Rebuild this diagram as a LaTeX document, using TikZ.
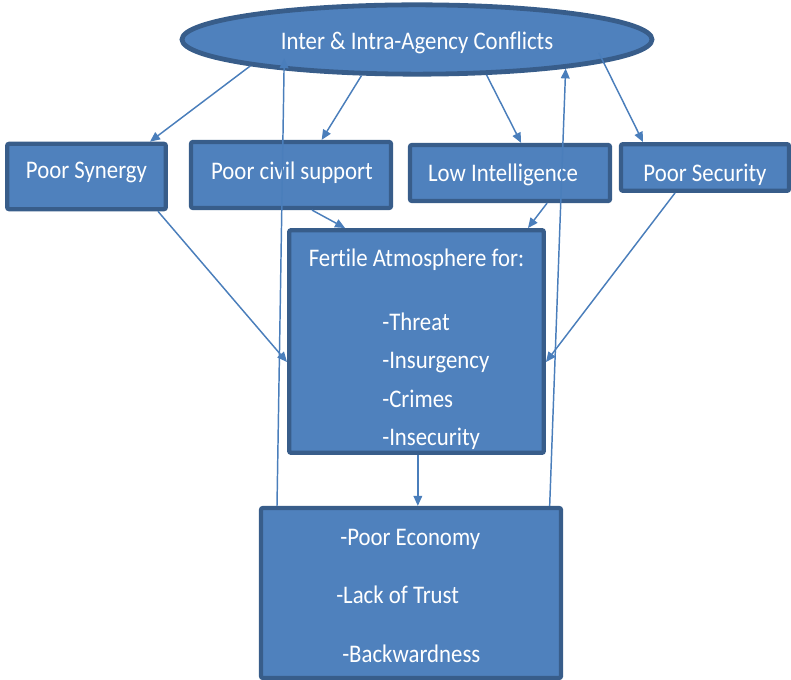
\documentclass[tikz,border=0pt]{standalone}
\usepackage{fontspec}
\setmainfont{Carlito}[FakeStretch=0.9,Ligatures=NoCommon]
\usetikzlibrary{arrows.meta,shapes.geometric}
\definecolor{BoxFill}{HTML}{4F81BD}
\definecolor{BoxEdge}{HTML}{385D8A}
\definecolor{LinkInk}{HTML}{4A7EBB}
\tikzset{
  chart/.style={x=0.75pt,y=-0.75pt,font=\fontsize{19}{22}\selectfont},
  box/.style={draw=BoxEdge,line width=3.2pt,fill=BoxFill,rounded corners=1.5pt,inner sep=0pt},
  bubble/.style={draw=BoxEdge,line width=3.6pt,fill=BoxFill,ellipse,inner sep=0pt},
  txt/.style={text=white,inner sep=0pt},
  link/.style={-{Triangle[length=7.5pt,width=6.5pt]},line width=1.1pt,draw=LinkInk},
}
\begin{document}
\begin{tikzpicture}[chart]
  \useasboundingbox (0,0) rectangle (791,680);

  % shapes
  \node[bubble,minimum width=352.5pt,minimum height=52pt] (conf) at (417,39.5) {};
  \node[box,minimum width=119pt,minimum height=49pt] (syn) at (86.5,176.5) {};
  \node[box,minimum width=150pt,minimum height=49.5pt] (civ) at (291,175) {};
  \node[box,minimum width=150pt,minimum height=42pt] (intel) at (510,173) {};
  \node[box,minimum width=126pt,minimum height=35pt] (sec) at (705,167.5) {};
  \node[box,minimum width=191pt,minimum height=167pt] (fert) at (416.5,341.5) {};
  \node[box,minimum width=225pt,minimum height=127.5pt] (bot) at (411,593) {};

  % texts
  \node[txt,anchor=base] (conf-t) at (417,50) {Inter \& Intra-Agency Conflicts};
  \node[txt,anchor=base] (syn-t) at (86.5,179) {Poor Synergy};
  \node[txt,anchor=base] (civ-t) at (292,180) {Poor civil support};
  \node[txt,anchor=base] (intel-t) at (503,182) {Low Intelligence};
  \node[txt,anchor=base] (sec-t) at (705,182) {Poor Security};
  \node[txt,anchor=base] (fert-t) at (416.5,267) {Fertile Atmosphere for:};
  \foreach \w [count=\i] in {Threat,Insurgency,Crimes,Insecurity}
    \node[txt,anchor=base west] (fert-\i) at (382,{330+38.5*(\i-1)}) {-\w};
  \node[txt,anchor=base west] (bot-1) at (340,545) {-Poor Economy};
  \node[txt,anchor=base west] (bot-2) at (336,603) {-Lack of Trust};
  \node[txt,anchor=base west] (bot-3) at (342,662) {-Backwardness};

  % connectors
  \draw[link] (conf.189) -- ([xshift=47.6pt]syn.north);
  \draw[link] (conf.213) -- ([xshift=23pt]civ.north);
  \draw[link] (conf.333) -- ([xshift=8.3pt]intel.north);
  \draw[link,shorten <=-8pt] (conf.353) -- ([xshift=-46.5pt]sec.north);
  \draw[link] ([xshift=53.6pt]syn.south) -- ([yshift=-15.4pt]fert.west);
  \draw[link] ([xshift=15.8pt]civ.south) -- ([xshift=-53.6pt]fert.north);
  \draw[link] ([xshift=27.8pt]intel.south) -- ([xshift=83.6pt]fert.north);
  \draw[link] ([xshift=-22.5pt]sec.south) -- ([yshift=-15.4pt]fert.east);
  \draw[link] ([xshift=1pt]fert.south) -- ([xshift=1pt]fert.south |- bot.north);
  \draw[link,shorten >=-9pt] ([xshift=-100.5pt]bot.north) -- (conf.193);
  \draw[link] ([xshift=104pt]bot.north) -- (conf.349);
\end{tikzpicture}
\end{document}
